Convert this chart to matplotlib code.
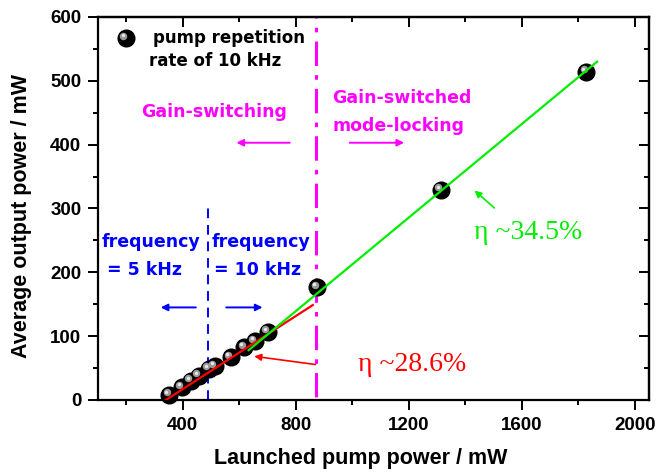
import matplotlib.pyplot as plt
import matplotlib.transforms as mtransforms
from matplotlib.ticker import MultipleLocator

# measured output power vs launched pump power (10 kHz pump)
pump_mw = [352, 396, 428, 456, 492, 513, 569, 618, 654, 700, 876, 1313, 1827]
output_mw = [8, 20, 30, 38, 49, 53, 67, 83, 92, 107, 177, 329, 514]

# linear fits
fit_gs_x = [340, 860]
fit_gs_y = [0, 148.7]
fit_ml_x = [633, 1866]
fit_ml_y = [78, 530]

freq_boundary = 490      # 5 kHz / 10 kHz
regime_boundary = 872    # gain-switching / gain-switched mode-locking

plt.rcParams['font.family'] = ['Liberation Sans', 'DejaVu Sans']
plt.rcParams['font.weight'] = 'bold'

fig = plt.figure(figsize=(6.57, 4.76), dpi=100)
ax = fig.add_axes([0.1492, 0.1597, 0.8387, 0.8046])

ax.set_xlim(100, 2050)
ax.set_ylim(0, 600)

# vertical boundaries
ax.plot([freq_boundary, freq_boundary], [0, 305], color='#0000ff', lw=1.4,
        dashes=(5, 3.5))
ax.plot([regime_boundary, regime_boundary], [5, 600], color='#ff00ff', lw=2.2,
        dashes=(8, 3, 1.5, 3))

# fit lines
ax.plot(fit_gs_x, fit_gs_y, color='#ff0000', lw=1.6, zorder=4)
ax.plot(fit_ml_x, fit_ml_y, color='#00ee00', lw=1.6, zorder=4)


def sphere(xs, ys, size=12):
    # black ball with a small grey highlight up and to the left
    ax.plot(xs, ys, 'o', ms=size, mfc='black', mec='black', zorder=3,
            clip_on=False)
    hl = mtransforms.offset_copy(ax.transData, fig=fig, x=-1.8, y=1.8,
                                 units='points')
    ax.plot(xs, ys, 'o', ms=size * 0.45, mfc='#9a9a9a', mec='none', zorder=3,
            transform=hl, clip_on=False)
    hl2 = mtransforms.offset_copy(ax.transData, fig=fig, x=-2.2, y=2.2,
                                  units='points')
    ax.plot(xs, ys, 'o', ms=size * 0.2, mfc='#e8e8e8', mec='none', zorder=3,
            transform=hl2, clip_on=False)


sphere(pump_mw, output_mw)

# wide bold face for the annotations
note = dict(fontsize=12.5, family='DejaVu Sans', weight='bold', va='center')

# legend entry
sphere([199], [567])
ax.text(294, 567, 'pump repetition', ha='left', **dict(note, fontsize=12))
ax.text(280, 531, 'rate of 10 kHz', ha='left', **dict(note, fontsize=12))

# regime labels
ax.text(509, 451, 'Gain-switching', color='#ff00ff', ha='center', **note)
ax.text(929, 473, 'Gain-switched', color='#ff00ff', ha='left', **note)
ax.text(929, 429, 'mode-locking', color='#ff00ff', ha='left', **note)
arr = dict(arrowstyle='-|>', lw=1.4, mutation_scale=10)
ax.annotate('', xy=(580, 403), xytext=(788, 403),
            arrowprops=dict(arr, color='#ff00ff'))
ax.annotate('', xy=(1193, 403), xytext=(981, 403),
            arrowprops=dict(arr, color='#ff00ff'))

# pump frequency labels
ax.text(287, 248, 'frequency', color='#0000ff', ha='center', **note)
ax.text(263, 204, '= 5 kHz', color='#0000ff', ha='center', **note)
ax.text(675, 248, 'frequency', color='#0000ff', ha='center', **note)
ax.text(664, 204, '= 10 kHz', color='#0000ff', ha='center', **note)
ax.annotate('', xy=(312, 145), xytext=(456, 145),
            arrowprops=dict(arr, color='#0000ff'))
ax.annotate('', xy=(692, 145), xytext=(544, 145),
            arrowprops=dict(arr, color='#0000ff'))

# slope efficiencies
ax.text(1020, 55, 'η ~28.6%', color='#ff0000', fontsize=20,
        family=['Liberation Serif', 'DejaVu Serif'], weight='normal',
        ha='left', va='center')
ax.annotate('', xy=(643, 69), xytext=(879, 55),
            arrowprops=dict(arr, color='#ff0000', lw=1.2))
ax.text(1429, 262, 'η ~34.5%', color='#00ee00', fontsize=20,
        family=['Liberation Serif', 'DejaVu Serif'], weight='normal',
        ha='left', va='center')
ax.annotate('', xy=(1425, 331), xytext=(1510, 298),
            arrowprops=dict(arr, color='#00ee00', lw=1.2))

# axes styling
ax.set_xticks([400, 800, 1200, 1600, 2000])
ax.xaxis.set_minor_locator(MultipleLocator(200))
ax.yaxis.set_major_locator(MultipleLocator(100))
ax.yaxis.set_minor_locator(MultipleLocator(50))
for s in ax.spines.values():
    s.set_linewidth(1.6)
ax.tick_params(which='both', direction='out', width=1.4, labelsize=13.5,
               top=False, right=False)
ax.tick_params(which='major', length=7, pad=5)
ax.tick_params(which='minor', length=3.5)
for lab in ax.get_xticklabels() + ax.get_yticklabels():
    lab.set_fontweight('bold')

# inward mirror ticks on top and right
sec_x = ax.secondary_xaxis('top')
sec_x.set_xticks([400, 800, 1200, 1600, 2000])
sec_x.xaxis.set_minor_locator(MultipleLocator(200))
sec_x.tick_params(which='both', direction='in', width=1.4, labeltop=False)
sec_x.tick_params(which='major', length=7)
sec_x.tick_params(which='minor', length=3.5)
sec_x.spines['top'].set_linewidth(1.6)
sec_y = ax.secondary_yaxis('right')
sec_y.yaxis.set_major_locator(MultipleLocator(100))
sec_y.yaxis.set_minor_locator(MultipleLocator(50))
sec_y.tick_params(which='both', direction='in', width=1.4, labelright=False)
sec_y.tick_params(which='major', length=7)
sec_y.tick_params(which='minor', length=3.5)
sec_y.spines['right'].set_linewidth(1.6)

ax.set_xlabel('Launched pump power / mW', fontsize=15.5, fontweight='bold')
ax.set_ylabel('Average output power / mW', fontsize=15.5, fontweight='bold')
ax.xaxis.set_label_coords(0.477, -0.125)
ax.yaxis.set_label_coords(-0.12, 0.48)

fig.savefig('out.png', dpi=100)
plt.close()
